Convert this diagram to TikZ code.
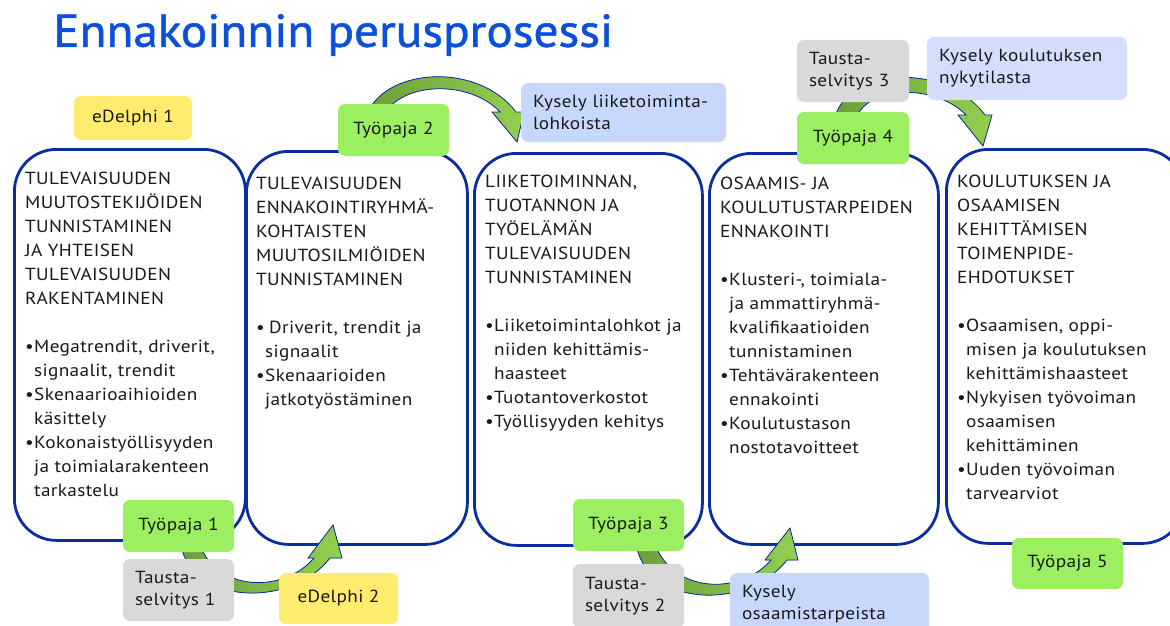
\documentclass[tikz,border=0pt]{standalone}
\usepackage{fontspec}
\setmainfont{PT Sans}[FakeStretch=1.1, LetterSpace=2]
\newfontfamily\titlefont{PT Sans}[FakeStretch=1.07, FakeBold=1.2]
\definecolor{boxblue}{RGB}{10,45,160}
\definecolor{titleblue}{RGB}{10,80,220}
\definecolor{txt}{RGB}{25,25,25}
\definecolor{gbox}{RGB}{155,239,96}
\definecolor{ybox}{RGB}{255,236,110}
\definecolor{greybox}{RGB}{217,217,217}
\definecolor{lbbox}{RGB}{200,216,252}
\definecolor{lbboxb}{RGB}{210,222,252}
\definecolor{agreen}{RGB}{146,208,80}
\definecolor{adark}{RGB}{108,158,58}
\newcommand\bl{\makebox[9pt][l]{•}}
\newcommand\hi{\hspace*{9pt}}
\begin{document}
\begin{tikzpicture}[x=1pt,y=-1pt,
  bigbox/.style={draw=boxblue, line width=2.8pt, rounded corners=42pt, fill=white, anchor=north west, inner sep=0pt},
  bodytext/.style={inner sep=0pt, anchor=north west, align=left, text=txt, font=\fontsize{17.5}{24}\selectfont},
  small/.style={rounded corners=7pt, inner sep=0pt, text=txt, font=\fontsize{17.5}{22}\selectfont},
  smallL/.style={small, align=left, text width=#1},
  arrowshape/.style={left color=adark, right color=agreen, draw=boxblue, line width=0.8pt, line join=miter}
]
\useasboundingbox (0,0) rectangle (1170,626);
\clip (0,0) rectangle (1170,626);

% title
\node[anchor=north west, inner sep=0pt, text=titleblue, font=\titlefont\fontsize{46}{50}\selectfont] (title) at (53,14) {Ennakoinnin perusprosessi};

% big boxes
\node[bigbox, minimum width=231pt, minimum height=391pt] (b1) at (13,148) {};
\node[bigbox, minimum width=221pt, minimum height=393pt] (b2) at (245,150) {};
\node[bigbox, minimum width=228pt, minimum height=392pt] (b3) at (473,152) {};
\node[bigbox, minimum width=229pt, minimum height=391pt] (b4) at (708,152) {};
\node[bigbox, minimum width=238pt, minimum height=394pt] (b5) at (945,148) {};

\node[bodytext] (t1) at (25,172) {TULEVAISUUDEN\\
MUUTOSTEKIJÖIDEN\\
TUNNISTAMINEN\\
JA YHTEISEN\\
TULEVAISUUDEN\\
RAKENTAMINEN\\[24pt]
\bl Megatrendit, driverit,\\
\hi signaalit, trendit\\
\bl Skenaarioaihioiden\\
\hi käsittely\\
\bl Kokonaistyöllisyyden\\
\hi ja toimialarakenteen\\
\hi tarkastelu};

\node[bodytext] (t2) at (256,177) {TULEVAISUUDEN\\
ENNAKOINTIRYHMÄ-\\
KOHTAISTEN\\
MUUTOSILMIÖIDEN\\
TUNNISTAMINEN\\[24pt]
\bl\hspace{4pt}Driverit, trendit ja\\
\hi signaalit\\
\bl Skenaarioiden\\
\hi jatkotyöstäminen};

\node[bodytext] (t3) at (485,175) {LIIKETOIMINNAN,\\
TUOTANNON JA\\
TYÖELÄMÄN\\
TULEVAISUUDEN\\
TUNNISTAMINEN\\[24pt]
\bl Liiketoimintalohkot ja\\
\hi niiden kehittämis-\\
\hi haasteet\\
\bl Tuotantoverkostot\\
\bl Työllisyyden kehitys};

\node[bodytext] (t4) at (720,177) {OSAAMIS- JA\\
KOULUTUSTARPEIDEN\\
ENNAKOINTI\\[24pt]
\bl Klusteri-, toimiala-\\
\hi ja ammattiryhmä-\\
\hi kvalifikaatioiden\\
\hi tunnistaminen\\
\bl Tehtävärakenteen\\
\hi ennakointi\\
\bl Koulutustason\\
\hi nostotavoitteet};

\node[bodytext] (t5) at (957,175) {KOULUTUKSEN JA\\
OSAAMISEN\\
KEHITTÄMISEN\\
TOIMENPIDE-\\
EHDOTUKSET\\[24pt]
\bl Osaamisen, oppi-\\
\hi misen ja koulutuksen\\
\hi kehittämishaasteet\\
\bl Nykyisen työvoiman\\
\hi osaamisen\\
\hi kehittäminen\\
\bl Uuden työvoiman\\
\hi tarvearviot};

% curved arrows
\fill[arrowshape] (368,112) .. controls (388,68) and (478,62) .. (516,112) -- (524,112) -- (517,142) -- (492,112) -- (500,112) .. controls (470,80) and (405,82) .. (386,112) -- cycle;
\fill[arrowshape] (836,114) .. controls (852,68) and (945,62) .. (985,115) -- (992,115) -- (983,146) -- (958,115) -- (966,115) .. controls (938,86) and (875,84) .. (858,114) -- cycle;
\fill[arrowshape] (182,550) .. controls (198,605) and (292,607) .. (330,558) -- (342,558) -- (333,525) -- (308,558) -- (314,558) .. controls (285,592) and (222,592) .. (202,550) -- cycle;
\fill[arrowshape] (637,549) .. controls (652,607) and (748,610) .. (787,560) -- (798,560) -- (790,528) -- (765,560) -- (771,560) .. controls (742,594) and (678,594) .. (657,549) -- cycle;

% small boxes
\node[small, fill=ybox, minimum width=118pt, minimum height=44pt] (ed1) at (133,118) {eDelphi 1};
\node[small, fill=gbox, minimum width=111pt, minimum height=52pt] (tp2) at (393.5,130) {Työpaja 2};
\node[smallL=181pt, fill=lbbox, minimum width=205pt, minimum height=59pt, inner xsep=12pt] (k1) at (623.5,112.5) {Kysely liiketoiminta-\\lohkoista};
\node[smallL=88pt, fill=greybox, minimum width=112pt, minimum height=62pt, inner xsep=12pt] (ts3) at (853,71) {Tausta-\\selvitys 3};
\node[smallL=176pt, fill=lbboxb, minimum width=200pt, minimum height=63pt, inner xsep=12pt] (k3) at (1027,68.5) {Kysely koulutuksen\\nykytilasta};
\node[small, fill=gbox, minimum width=112pt, minimum height=52pt] (tp4) at (853,138) {Työpaja 4};
\node[small, fill=gbox, minimum width=111pt, minimum height=52pt] (tp1) at (178.5,526) {Työpaja 1};
\node[smallL=87pt, fill=greybox, minimum width=111pt, minimum height=62pt, inner xsep=12pt] (ts1) at (178.5,590) {Tausta-\\selvitys 1};
\node[small, fill=ybox, minimum width=119pt, minimum height=51pt] (ed2) at (338.5,598.5) {eDelphi 2};
\node[small, fill=gbox, minimum width=111pt, minimum height=52pt] (tp3) at (628.5,525) {Työpaja 3};
\node[smallL=87pt, fill=greybox, minimum width=111pt, minimum height=64pt, inner xsep=12pt] (ts2) at (628.5,596) {Tausta-\\selvitys 2};
\node[smallL=175pt, fill=lbbox, minimum width=199pt, minimum height=62pt, inner xsep=12pt] (k2) at (829.5,604) {Kysely\\osaamistarpeista};
\node[small, fill=gbox, minimum width=111pt, minimum height=51pt] (tp5) at (1067.5,563.5) {Työpaja 5};
\end{tikzpicture}
\end{document}
